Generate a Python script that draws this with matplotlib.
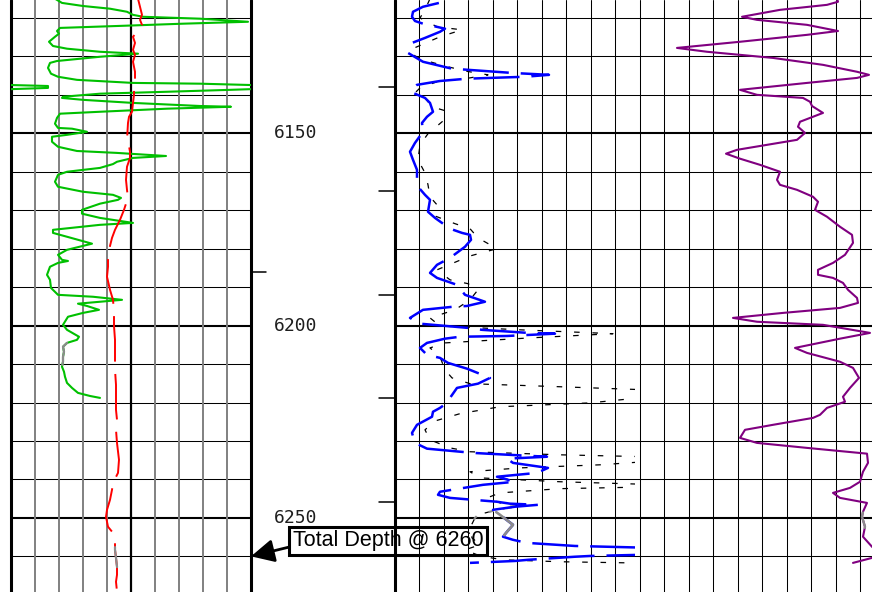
import numpy as np
import matplotlib
matplotlib.use("Agg")
import matplotlib.pyplot as plt

plt.rcParams['lines.scale_dashes'] = False
plt.rcParams['lines.dash_capstyle'] = 'butt'
plt.rcParams['lines.solid_capstyle'] = 'round'

# ---------------------------------------------------------------- log data
# Track 1: gamma ray (API, 0-120, wraps to a backup scale) and SP (mV, -80..40)
gr_depth = [6115.0, 6116.1, 6116.9, 6117.6, 6118.4, 6119.2, 6119.7, 6120.2, 6121.0, 6121.5,
            6122.1, 6122.6, 6123.4, 6124.1, 6124.9, 6126.2, 6127.3, 6128.0, 6128.8, 6129.3,
            6130.1, 6131.2, 6131.7, 6133.0, 6134.5, 6135.3, 6136.1, 6136.9, 6137.1, 6137.7,
            6138.2, 6138.7, 6139.2, 6139.7, 6140.5, 6140.8, 6141.3, 6142.1, 6142.9, 6143.1,
            6143.6, 6144.4, 6144.9, 6146.0, 6147.5, 6148.6, 6148.8, 6149.6, 6150.4, 6150.9,
            6152.2, 6153.5, 6154.6, 6155.1, 6155.9, 6156.4, 6157.4, 6158.0, 6159.0, 6160.0,
            6160.8, 6162.6, 6163.9, 6165.2, 6166.0, 6166.8, 6167.3, 6168.3, 6169.9, 6170.9,
            6172.0, 6173.3, 6173.8, 6175.1, 6175.9, 6176.9, 6178.7, 6180.3, 6181.6, 6182.9,
            6183.2, 6183.7, 6184.7, 6186.8, 6188.1, 6190.2, 6192.0, 6192.5, 6193.3, 6193.8,
            6194.3, 6194.9, 6195.9, 6196.7, 6197.7, 6199.8, 6201.1, 6202.9, 6203.7, 6204.5,
            6205.5, 6206.8, 6208.1, 6209.4, 6210.7, 6212.0, 6213.3, 6214.9, 6216.2, 6217.5,
            6218.3, 6218.8]
gr_api = [22.0, 25.5, 36.0, 49.5, 58.0, 61.0, 66.0, 94.5, 118.5, 86.0,
          53.0, 24.5, 23.0, 24.0, 22.0, 19.0, 21.0, 28.0, 44.5, 63.5,
          44.5, 23.0, 19.5, 18.5, 20.0, 23.5, 33.0, 61.0, 94.5, 138.5,
          138.5, 109.5, 78.0, 44.5, 26.0, 25.5, 36.0, 61.0, 94.5, 110.0,
          78.0, 44.5, 24.5, 23.0, 22.0, 23.5, 30.5, 38.0, 28.0, 20.5,
          20.5, 23.5, 33.0, 53.0, 77.5, 61.0, 53.0, 51.0, 44.5, 28.0,
          23.5, 22.0, 23.5, 36.0, 51.0, 55.0, 53.5, 44.5, 35.5, 35.5,
          44.5, 61.0, 44.5, 21.0, 21.0, 28.0, 40.5, 28.0, 23.5, 25.5,
          28.5, 23.5, 19.5, 18.0, 19.5, 20.0, 23.5, 41.0, 55.5, 44.5,
          33.5, 38.0, 44.0, 36.0, 28.5, 26.0, 28.0, 34.0, 33.0, 28.0,
          26.0, 26.5, 26.0, 26.0, 25.5, 26.5, 27.0, 28.0, 30.5, 33.5,
          39.5, 44.5]
gr_flag = (6204.5, 6210.2)

sp_depth = [6115.0, 6117.1, 6119.2, 6120.5, 6121.8, 6123.4, 6124.9, 6126.5, 6128.3, 6129.6,
            6131.4, 6134.0, 6136.6, 6138.7, 6140.0, 6142.1, 6144.4, 6145.7, 6147.3, 6151.7,
            6153.3, 6154.8, 6156.4, 6158.7, 6162.1, 6164.7, 6166.8, 6168.3, 6169.9, 6172.5,
            6175.1, 6177.2, 6179.3, 6181.1, 6182.9, 6184.7, 6187.3, 6190.7, 6193.3, 6196.4,
            6200.1, 6203.7, 6207.1, 6211.5, 6215.4, 6219.3, 6221.9, 6224.5, 6227.1, 6230.5,
            6234.9, 6238.3, 6240.9, 6242.7, 6245.3, 6247.9, 6249.7, 6252.3, 6253.9, 6256.5,
            6258.3, 6260.4, 6262.7, 6264.8, 6266.6, 6269.2, 6271.3]
sp_mv = [-16.5, -15.5, -14.5, -15.5, -14.5, -16.5, -19.0, -18.0, -19.0, -18.0,
         -19.0, -18.0, -18.0, -18.5, -18.5, -19.0, -19.5, -21.0, -21.5, -22.0,
         -21.0, -20.5, -20.5, -22.0, -22.5, -22.0, -21.5, -22.5, -23.5, -25.5,
         -28.0, -29.5, -30.5, -31.0, -31.5, -31.5, -32.0, -30.5, -29.0, -28.5,
         -28.5, -28.0, -28.0, -28.0, -27.5, -27.5, -27.5, -27.0, -27.5, -27.0,
         -26.0, -26.5, -29.0, -29.5, -30.5, -32.0, -32.5, -31.5, -29.0, -28.0,
         -28.0, -27.5, -27.0, -27.0, -27.5, -27.0, -27.0]
sp_flag = (6257.6, 6262.8)

# Track 2: deep and shallow resistivity (ohm-m, 0-120)
deep_depth = [6115.0, 6116.1, 6117.1, 6118.4, 6119.7, 6120.8, 6121.5, 6122.8, 6123.6, 6125.2,
              6126.5, 6129.1, 6131.4, 6133.2, 6134.3, 6134.8, 6135.3, 6135.8, 6136.4, 6137.4,
              6138.7, 6139.5, 6140.8, 6142.1, 6144.4, 6145.7, 6147.3, 6149.6, 6152.5, 6154.8,
              6156.9, 6159.5, 6162.1, 6163.9, 6166.0, 6167.3, 6170.4, 6172.0, 6174.8, 6175.9,
              6176.4, 6177.7, 6179.5, 6182.4, 6184.2, 6186.3, 6187.6, 6189.4, 6192.0, 6193.8,
              6194.9, 6195.1, 6195.9, 6198.0, 6199.5, 6200.6, 6201.1, 6201.9, 6202.1, 6202.7,
              6202.9, 6203.4, 6204.5, 6205.8, 6207.6, 6208.4, 6209.7, 6211.2, 6213.6, 6215.1,
              6216.2, 6218.8, 6220.1, 6221.4, 6222.4, 6223.7, 6225.8, 6227.9, 6230.5, 6232.0,
              6233.1, 6233.3, 6234.1, 6234.6, 6235.7, 6237.0, 6238.3, 6239.3, 6240.6, 6241.4,
              6243.2, 6244.0, 6244.8, 6245.8, 6246.3, 6246.6, 6247.1, 6247.9, 6249.2, 6251.8,
              6253.6, 6254.9, 6255.7, 6256.5, 6257.3, 6258.7, 6259.9, 6260.1, 6260.9, 6261.2,
              6261.7]
deep_res = [25.0, 22.0, 14.0, 9.0, 8.5, 10.0, 14.0, 25.0, 22.5, 15.0,
            8.5, 6.5, 14.0, 28.5, 58.5, 77.0, 65.0, 36.0, 22.5, 11.0,
            8.0, 9.0, 15.0, 17.5, 19.0, 16.0, 13.5, 14.0, 10.0, 7.5,
            9.0, 11.0, 11.0, 11.5, 15.0, 17.5, 16.5, 20.0, 27.5, 33.5,
            37.5, 38.0, 35.0, 27.5, 21.0, 17.5, 21.0, 31.0, 35.0, 45.0,
            36.0, 29.0, 14.0, 7.5, 12.5, 36.5, 43.5, 66.5, 80.0, 56.0,
            32.5, 25.0, 16.0, 12.5, 16.0, 22.5, 26.5, 36.0, 47.5, 41.5,
            31.0, 27.5, 26.0, 22.5, 19.0, 18.5, 11.0, 8.5, 10.0, 16.0,
            39.0, 46.0, 76.0, 56.0, 59.0, 76.5, 71.0, 51.0, 60.0, 44.0,
            22.5, 21.5, 27.5, 51.0, 57.5, 71.5, 60.0, 49.0, 52.5, 59.0,
            56.0, 54.0, 59.0, 66.0, 90.0, 200.0, 97.5, 90.0, 66.5, 60.0,
            37.5]
deep_flag = (6248.5, 6254.5)

shallow_depth = [6115.0, 6117.9, 6120.0, 6122.3, 6123.1, 6124.9, 6128.3, 6129.6, 6130.9, 6132.5,
                 6133.8, 6134.8, 6135.8, 6136.6, 6138.2, 6139.5, 6140.8, 6143.1, 6144.2, 6146.8,
                 6150.1, 6153.0, 6156.9, 6160.3, 6163.4, 6166.5, 6168.6, 6171.5, 6173.5, 6174.8,
                 6177.2, 6180.0, 6181.9, 6185.5, 6188.1, 6189.1, 6190.7, 6193.3, 6195.9, 6198.0,
                 6200.1, 6201.1, 6202.1, 6203.2, 6204.5, 6205.8, 6208.1, 6211.5, 6213.6, 6215.1,
                 6215.9, 6217.2, 6220.1, 6221.1, 6222.9, 6224.8, 6227.1, 6229.7, 6231.8, 6232.8,
                 6233.6, 6234.4, 6236.2, 6237.0, 6238.0, 6239.6, 6240.6, 6241.7, 6242.4, 6243.5,
                 6244.8, 6246.1, 6246.9, 6247.9, 6249.2, 6250.0, 6252.6, 6255.2, 6257.0, 6258.3,
                 6259.9, 6260.9, 6261.4, 6262.0]
shallow_res = [17.5, 15.0, 12.5, 21.0, 33.5, 22.5, 7.5, 9.0, 14.0, 25.0,
               35.0, 46.5, 35.0, 21.0, 12.5, 10.0, 15.0, 18.5, 25.5, 24.0,
               16.5, 12.5, 11.5, 15.0, 16.5, 17.5, 21.0, 20.0, 30.0, 37.5,
               41.5, 51.0, 37.5, 21.0, 27.5, 36.5, 41.5, 37.5, 30.0, 17.5,
               22.5, 62.5, 109.0, 67.5, 25.0, 17.5, 22.5, 25.0, 28.5, 37.5,
               82.5, 152.5, 97.5, 52.5, 32.5, 20.0, 15.0, 17.5, 27.5, 37.5,
               82.5, 152.5, 102.5, 62.5, 37.5, 42.5, 82.5, 152.5, 82.5, 52.5,
               46.0, 52.5, 62.5, 51.0, 41.5, 40.0, 37.5, 38.5, 42.5, 35.0,
               42.5, 54.0, 82.5, 152.5]
shallow_flag = (6246.5, 6250.5)

# Track 3: density-type curve on a 0-120 scale
rhob_depth = [6115.0, 6115.8, 6116.6, 6117.9, 6119.7, 6120.5, 6121.8, 6123.4, 6124.4, 6126.2,
              6127.8, 6128.8, 6130.4, 6132.2, 6134.0, 6134.8, 6135.6, 6136.9, 6138.7, 6140.0,
              6140.8, 6141.8, 6142.9, 6144.7, 6145.7, 6147.0, 6148.3, 6149.9, 6151.7, 6153.0,
              6154.3, 6155.3, 6156.6, 6158.2, 6160.0, 6162.1, 6163.4, 6164.7, 6166.5, 6167.8,
              6169.9, 6171.7, 6174.3, 6176.4, 6178.5, 6181.6, 6183.7, 6185.5, 6186.8, 6187.6,
              6188.9, 6190.7, 6192.8, 6194.1, 6195.4, 6196.7, 6198.0, 6199.0, 6199.8, 6201.9,
              6203.4, 6205.8, 6207.1, 6209.4, 6211.0, 6213.6, 6216.2, 6218.5, 6219.8, 6221.4,
              6223.2, 6224.0, 6225.8, 6227.1, 6229.2, 6230.5, 6231.8, 6233.3, 6235.7, 6238.0,
              6240.6, 6242.2, 6243.5, 6244.8, 6246.1, 6248.4, 6249.7, 6252.3, 6254.9, 6257.5,
              6258.8, 6260.4, 6261.7]
rhob_val = [98.5, 99.0, 93.5, 70.0, 51.0, 58.5, 83.5, 99.0, 83.5, 50.0,
            18.5, 33.5, 66.5, 91.5, 108.5, 114.5, 108.5, 83.5, 50.0, 58.5,
            81.5, 85.0, 86.0, 91.5, 86.5, 80.0, 79.0, 82.5, 78.5, 63.5,
            48.5, 43.0, 50.0, 60.0, 70.0, 68.5, 70.0, 78.5, 86.5, 89.0,
            87.5, 93.5, 100.0, 106.0, 106.5, 102.5, 96.5, 89.0, 89.0, 96.5,
            101.5, 104.0, 108.5, 109.0, 100.0, 71.5, 46.5, 58.5, 91.5, 115.0,
            100.0, 77.5, 83.5, 100.0, 106.5, 109.5, 105.0, 101.5, 102.5, 93.5,
            90.0, 86.5, 66.5, 52.5, 50.0, 58.5, 83.5, 113.5, 114.0, 111.5,
            110.0, 105.0, 96.5, 100.0, 113.5, 111.5, 111.0, 112.5, 111.5, 116.0,
            119.0, 116.0, 106.5]
rhob_flag = (6248.6, 6252.6)

# Depth track annotations
depth_labels = [6150, 6200, 6250]
ticks_left = [6186.0]
ticks_right = [6138.0, 6165.0, 6192.0, 6218.8, 6245.9]
total_depth = 6260
grid_depths = list(range(6120, 6270, 10))

# ---------------------------------------------------------------- layout
W, H, DPI = 872, 592, 100
TOP, BASE = 6115.34, 6269.27

fig = plt.figure(figsize=(W / DPI, H / DPI), dpi=DPI)
fig.patch.set_facecolor('white')


def track(x0, x1, xlim, z):
    ax = fig.add_axes([x0 / W, 0.0, (x1 - x0) / W, 1.0], zorder=z)
    ax.set_xlim(*xlim)
    ax.set_ylim(BASE, TOP)
    ax.set_axis_off()
    return ax


def hgrid(ax):
    for d in grid_depths:
        major = d % 50 == 0
        ax.axhline(d, color='black', lw=1.5 if major else 0.75, zorder=1)


def flagged(depth, vals, span):
    d = np.asarray(depth, float)
    v = np.asarray(vals, float)
    lo, hi = span
    inside = (d > lo) & (d < hi)
    dd = np.concatenate([[lo], d[inside], [hi]])
    vv = np.concatenate([[np.interp(lo, d, v)], v[inside], [np.interp(hi, d, v)]])
    return vv, dd


def wrap_segments(depth, vals, limit):
    d = np.asarray(depth, float)
    v = np.asarray(vals, float)
    out_v, out_d = [], []
    for i in range(len(d) - 1):
        a, b = v[i], v[i + 1]
        if (a > limit) != (b > limit):
            t = (limit - a) / (b - a)
            dc = d[i] + t * (d[i + 1] - d[i])
            if b > limit:
                out_v.append(0.0)
                out_d.append(dc)
            else:
                out_v += [a - limit, 0.0, np.nan]
                out_d += [d[i], dc, np.nan]
            continue
        if a > limit and b > limit:
            out_v.append(a - limit)
            out_d.append(d[i])
    return out_v, out_d


GREEN, RED, BLUE, PURPLE, FLAG = '#00c000', '#ff0000', '#0000ff', '#800080', '#8c8c8c'

# ---- track 1 (gamma ray / SP)
ax1 = track(11, 251, (0, 120), 2)
hgrid(ax1)
for x in range(12, 120, 12):
    if x == 60:
        ax1.axvline(x, color='black', lw=1.6, zorder=1)
    else:
        ax1.axvline(x, color='#808080', lw=1.4, zorder=1)
for x in (0, 120):
    ax1.axvline(x, color='black', lw=2.2, clip_on=False, zorder=2)

ax1.plot(gr_api, gr_depth, color=GREEN, lw=1.5, zorder=3)
wv, wd = wrap_segments(gr_depth, gr_api, 120)
ax1.plot(wv, wd, color=GREEN, lw=1.5, zorder=3)
fv, fd = flagged(gr_depth, gr_api, gr_flag)
ax1.plot(fv, fd, color=FLAG, lw=1.6, zorder=4)

ax1b = track(11, 251, (-80, 40), 3)
ax1b.plot(sp_mv, sp_depth, color=RED, lw=1.4, linestyle=(13.0, (32.8, 8.9)))
fv, fd = flagged(sp_depth, sp_mv, sp_flag)
ax1b.plot(fv, fd, color=FLAG, lw=1.6)

# ---- depth track
axd = track(251, 395, (0, 144), 1)
for d in ticks_left:
    axd.plot([0, 15], [d, d], color='black', lw=1.1, clip_on=False)
for d in ticks_right:
    axd.plot([128, 144], [d, d], color='black', lw=1.1, clip_on=False)
for d in depth_labels:
    axd.text(44.5, d, f"{d}", ha='center', va='center', fontsize=13,
             family='DejaVu Sans Mono', color='#1e1e1e')

axd.annotate(f"Total Depth @ {total_depth}", xy=(0, total_depth),
             xytext=(137, 6256.0), xycoords='data', textcoords='data',
             ha='center', va='center', fontsize=15.5, family='Liberation Sans',
             color='black', annotation_clip=False,
             bbox=dict(boxstyle='square,pad=0.15', fc='white', ec='black', lw=2.2),
             arrowprops=dict(arrowstyle='-|>,head_length=0.7,head_width=0.35',
                             color='black', lw=2.0, relpos=(0.0, 0.25),
                             shrinkA=0, shrinkB=0, mutation_scale=20))

# ---- tracks 2 and 3 grid
axg = track(395, 884.5, (0, 20), 4)
hgrid(axg)
for x in range(1, 20):
    axg.axvline(x, color='black', lw=0.75, zorder=1)
axg.axvline(0, color='black', lw=2.2, clip_on=False, zorder=2)

# ---- track 2 curves
ax2 = track(395, 635, (0, 120), 5)
ax2.plot(shallow_res, shallow_depth, color='black', lw=0.9, linestyle=(0.0, (4.0, 9.2)))
fv, fd = flagged(shallow_depth, shallow_res, shallow_flag)
ax2.plot(fv, fd, color=FLAG, lw=1.5, linestyle=(0.0, (4.0, 9.2)))
ax2.plot(deep_res, deep_depth, color=BLUE, lw=1.8, linestyle=(36.7, (33.1, 8.6)))
fv, fd = flagged(deep_depth, deep_res, deep_flag)
ax2.plot(fv, fd, color=FLAG, lw=1.9)

# ---- track 3 curve
ax3 = track(640, 880, (0, 120), 5)
ax3.plot(rhob_val, rhob_depth, color=PURPLE, lw=1.5)
fv, fd = flagged(rhob_depth, rhob_val, rhob_flag)
ax3.plot(fv, fd, color=FLAG, lw=1.7)

fig.savefig('out.png', dpi=DPI, facecolor='white')
